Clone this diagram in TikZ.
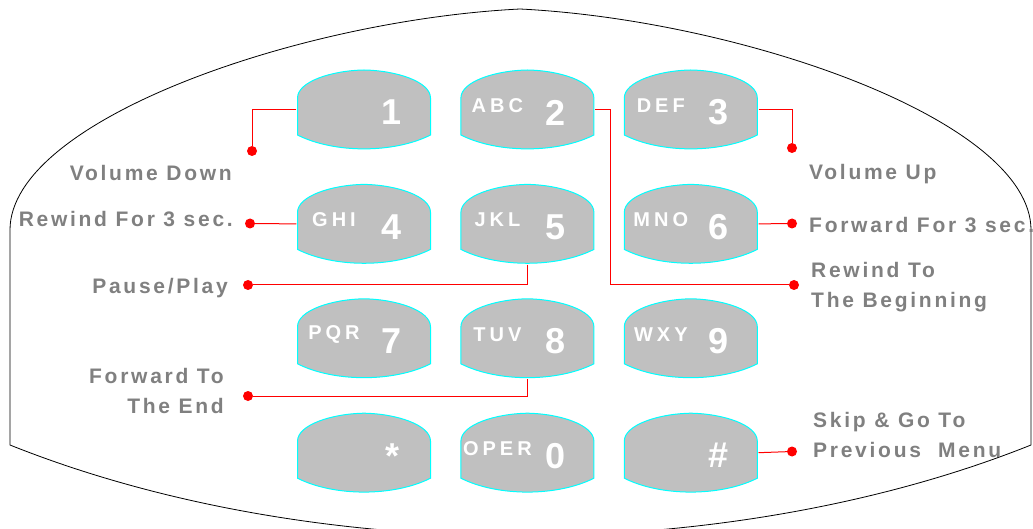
\documentclass[tikz,border=0pt]{standalone}
\usepackage{fontspec}
\setmainfont{Liberation Sans}
\newfontfamily\lblfont[LetterSpace=13]{Liberation Sans}
\newfontfamily\abcfont[LetterSpace=20]{Liberation Sans}
\usetikzlibrary{positioning}

\definecolor{keygray}{HTML}{C0C0C0}
\definecolor{keyedge}{HTML}{00FFFF}
\definecolor{lblgray}{HTML}{808080}

% one key of the pad: name, placement, letters, digit
\newcommand\padkey[4]{%
\node[keybox,#2] (#1) {};
\node[keyletters] (#1-abc) at ([xshift=-30pt,yshift=4pt]#1.center) {#3};
\node[keydigit] (#1-num) at ([xshift=28pt,yshift=-3pt]#1.center) {#4};
}

\begin{document}
\begin{tikzpicture}[
x=1pt,y=-1pt,
node distance=28pt,
keybox/.style={
minimum width=135pt,
minimum height=81pt,
inner sep=0pt,
path picture={
\fill[keygray,draw=keyedge,line width=1pt,
shift={(path picture bounding box.center)}]
(-66.5,-11.5) .. controls (-66.5,-28) and (-32,-39) .. (0,-39.5)
.. controls (32,-39) and (66.5,-28) .. (66.5,-11.5)
-- (66.5,25.5) .. controls (30,44) and (-30,44) .. (-66.5,25.5)
-- cycle;
}
},
keyletters/.style={
font=\abcfont\bfseries\fontsize{20}{24}\selectfont,
text=white,
inner sep=0pt
},
keydigit/.style={
font=\bfseries\fontsize{36}{40}\selectfont,
text=white,
inner sep=0pt
},
lbl/.style={
font=\lblfont\bfseries\fontsize{21}{30}\selectfont,
text=lblgray,
inner sep=0pt
},
dot/.style={
circle,
fill=red,
inner sep=0pt,
minimum size=10pt
},
wire/.style={
draw=red,
line width=1pt
}
]

\useasboundingbox (0,0) rectangle (1033,529);

%%%%%%%%%%%%%%%%%%%%%%%%%%%%%%%%%%%%
% Handset outline
%%%%%%%%%%%%%%%%%%%%%%%%%%%%%%%%%%%%

\draw[line width=0.8pt]
(10,230) .. controls (10,120) and (300,20) .. (520,9)
.. controls (740,20) and (1031,120) .. (1031,230)
-- (1031,445) .. controls (881,505) and (700,536) .. (520,536)
.. controls (340,536) and (160,505) .. (10,445)
-- cycle;

%%%%%%%%%%%%%%%%%%%%%%%%%%%%%%%%%%%%
% Keys
%%%%%%%%%%%%%%%%%%%%%%%%%%%%%%%%%%%%

\padkey{k1}{at={(364,109.5)}}{}{1}
\padkey{k2}{right=of k1}{ABC}{2}
\padkey{k3}{right=of k2}{DEF}{3}

\padkey{k4}{below=33pt of k1}{GHI}{4}
\padkey{k5}{right=of k4}{JKL}{5}
\padkey{k6}{right=of k5}{MNO}{6}

\padkey{k7}{below=33pt of k4}{PQR}{7}
\padkey{k8}{right=of k7}{TUV}{8}
\padkey{k9}{right=of k8}{WXY}{9}

\padkey{kstar}{below=33pt of k7}{}{*}
\padkey{k0}{right=of kstar}{OPER}{0}
\padkey{khash}{right=of k0}{}{\#}

%%%%%%%%%%%%%%%%%%%%%%%%%%%%%%%%%%%%
% Labels
%%%%%%%%%%%%%%%%%%%%%%%%%%%%%%%%%%%%

\node[lbl,anchor=base east] (volDown) at (232,181) {Volume Down};
\node[lbl,anchor=base east] (rewind3) at (233,227) {Rewind For 3 sec.};
\node[lbl,anchor=base east] (pause) at (228,294) {Pause/Play};
\node[lbl,anchor=base east,align=right] (fwdEnd) at (224,413) {Forward To\\The End};

\node[lbl,anchor=base west] (volUp) at (809,180) {Volume Up};
\node[lbl,anchor=base west] (fwd3) at (809,233) {Forward For 3 sec.};
\node[lbl,anchor=base west,align=left] (rewBegin) at (811,308) {Rewind To\\The Beginning};
\node[lbl,anchor=base west,align=left] (skip) at (813,457) {Skip \& Go To\\Previous\ \ Menu};

%%%%%%%%%%%%%%%%%%%%%%%%%%%%%%%%%%%%
% Connections
%%%%%%%%%%%%%%%%%%%%%%%%%%%%%%%%%%%%

\node[dot] (dVolDown) at (252,151) {};
\node[dot] (dRewind3) at (250,223.5) {};
\node[dot] (dPause) at (248,285) {};
\node[dot] (dFwdEnd) at (248,396) {};
\node[dot] (dVolUp) at (792,148) {};
\node[dot] (dFwd3) at (792,223.5) {};
\node[dot] (dRewBegin) at (794,285) {};
\node[dot] (dSkip) at (792,451.5) {};

\draw[wire] (k1.west) -| (dVolDown);
\draw[wire] (k4.west) -- (dRewind3);
\draw[wire] (k5.south) |- (dPause);
\draw[wire] (k8.south) |- (dFwdEnd);
\draw[wire] (k3.east) -| (dVolUp);
\draw[wire] (k6.east) -- (dFwd3);
\draw[wire] (k2.east) -- ++(15,0) |- (dRewBegin);
\draw[wire] (khash.east) -- (dSkip);

\end{tikzpicture}
\end{document}
